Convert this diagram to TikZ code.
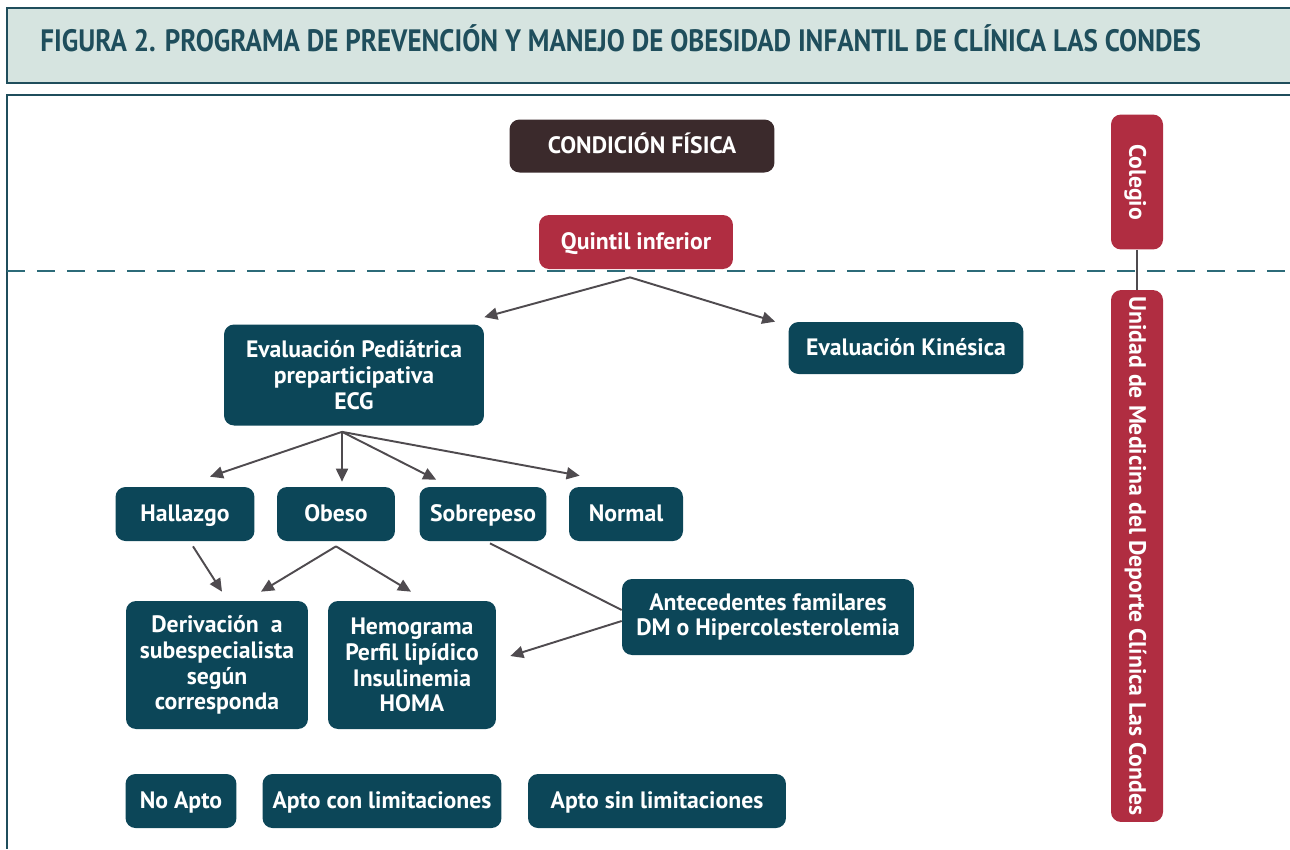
\documentclass[tikz,border=0pt]{standalone}
\usepackage{fontspec}
\setmainfont{PT Sans}
\newfontfamily\titlefont[FakeStretch=0.875]{PT Sans}
\usetikzlibrary{arrows.meta}

\definecolor{teal}{HTML}{0C4658}
\definecolor{wine}{HTML}{B02D41}
\definecolor{brownish}{HTML}{3B2A2C}
\definecolor{headbg}{HTML}{D6E4E0}
\definecolor{headline}{HTML}{1F4E5C}
\definecolor{dashc}{HTML}{2C6B79}
\definecolor{arrowc}{HTML}{4F4B4F}

\begin{document}
\begin{tikzpicture}
  [ x=0.02cm, y=0.02cm,
    box/.style={fill=teal, text=white, rounded corners=0.2cm,
    font=\fontsize{13.5}{14.7}\selectfont\bfseries, align=center,
    minimum height=1.08cm, inner sep=1mm},
    oneline/.style={text height=2.3ex, text depth=0.55ex},
    redbox/.style={box, fill=wine},
    ld/.style={draw=arrowc, line width=1.1pt, -{Triangle[length=0.26cm,width=0.24cm]}}
  ]
  \useasboundingbox (0,0) rectangle (1290,-849);

  % header and frame
  \path [fill=headbg] (7,-8) rectangle (1290,-83);
  \draw [headline, line width=1.2pt] (1290,-8) -- (7,-8) -- (7,-83) -- (1290,-83);
  \node (cTitle) at (40,-51) [anchor=base west, inner sep=0pt, text=headline,
    font=\fontsize{17.6}{20}\titlefont\bfseries]
    {FIGURA 2. PROGRAMA DE PREVENCIÓN Y MANEJO DE OBESIDAD INFANTIL DE CLÍNICA LAS CONDES};
  \draw [headline, line width=1.2pt] (1290,-95) -- (7,-95) -- (7,-849);
  \draw [dashc, line width=1.2pt, dash pattern=on 0.36cm off 0.24cm] (7,-271) -- (1290,-271);

  \node (cCond)   at (642,-146) [box, oneline, fill=brownish, minimum width=5.3cm, minimum height=1.06cm] {CONDICIÓN FÍSICA};
  \node (cQuint)  at (636,-242) [redbox, oneline, minimum width=3.88cm] {Quintil inferior};
  \node (cCol)    at (1137,-182) [redbox, oneline, rotate=-90, minimum width=2.7cm, minimum height=1.04cm] {Colegio};
  \node (cUnidad) at (1137,-556) [redbox, oneline, rotate=-90, minimum width=10.64cm, minimum height=1.04cm] {Unidad de Medicina del Deporte Clínica Las Condes};

  \node (cPed)  at (354,-375) [box, minimum width=5.2cm, minimum height=2.02cm] {Evaluación Pediátrica\\ preparticipativa\\ ECG};
  \node (cKin)  at (906,-348) [box, oneline, minimum width=4.7cm, minimum height=1.04cm] {Evaluación Kinésica};

  \node (cHall) at (185,-514) [box, oneline, minimum width=2.78cm] {Hallazgo};
  \node (cObe)  at (336,-514) [box, oneline, minimum width=2.36cm] {Obeso};
  \node (cSob)  at (483,-514) [box, oneline, minimum width=2.54cm] {Sobrepeso};
  \node (cNor)  at (626,-514) [box, oneline, minimum width=2.28cm] {Normal};

  \node (cAnt)  at (768,-617) [box, minimum width=5.84cm, minimum height=1.52cm] {Antecedentes familares\\ DM o Hipercolesterolemia};
  \node (cDer)  at (217,-665) [box, minimum width=3.64cm, minimum height=2.56cm] {Derivación\ \ a\\ subespecialista\\ según\\ corresponda};
  \node (cHem)  at (412,-665) [box, minimum width=3.36cm, minimum height=2.56cm] {Hemograma\\ Perfil lipídico\\ Insulinemia\\ HOMA};

  \node (cNoApto)  at (181,-801) [box, oneline, minimum width=2.22cm] {No Apto};
  \node (cAptoCon) at (382,-801) [box, oneline, minimum width=4.78cm] {Apto con limitaciones};
  \node (cAptoSin) at (657,-801) [box, oneline, minimum width=5.16cm] {Apto sin limitaciones};

  % forks
  \coordinate (qFork) at ([xshift=-0.12cm,yshift=-0.16cm]cQuint.south);
  \coordinate (pFork) at ([xshift=-0.24cm,yshift=-0.12cm]cPed.south);
  \coordinate (oFork) at ([yshift=-0.1cm]cObe.south);

  \draw [arrowc, line width=1.2pt] (cCol.east) -- (cUnidad.west);

  \draw [ld] (qFork) -- ([yshift=0.14cm]cPed.north east);
  \draw [ld] (qFork) -- ([xshift=-0.26cm]cKin.north west);

  \draw [ld] (pFork) -- ([xshift=0.5cm,yshift=0.2cm]cHall.north);
  \draw [ld] (pFork) -- ([xshift=0.12cm,yshift=0.1cm]cObe.north);
  \draw [ld] (pFork) -- ([xshift=0.34cm,yshift=0.14cm]cSob.north west);
  \draw [ld] (pFork) -- ([xshift=0.22cm,yshift=0.22cm]cNor.north west);

  \draw [ld] ([xshift=0.16cm,yshift=-0.1cm]cHall.south) -- ([xshift=0.1cm,yshift=0.18cm]cDer.north);
  \draw [ld] (oFork) -- ([xshift=0.88cm,yshift=0.18cm]cDer.north);
  \draw [ld] (oFork) -- ([xshift=-0.02cm,yshift=0.18cm]cHem.north);

  \draw [draw=arrowc, line width=1.1pt] ([xshift=0.14cm,yshift=-0.04cm]cSob.south) -- ([yshift=0.14cm]cAnt.west);
  \draw [ld] ([yshift=-0.08cm]cAnt.west) -- ([xshift=0.28cm,yshift=0.18cm]cHem.east);
\end{tikzpicture}
\end{document}
